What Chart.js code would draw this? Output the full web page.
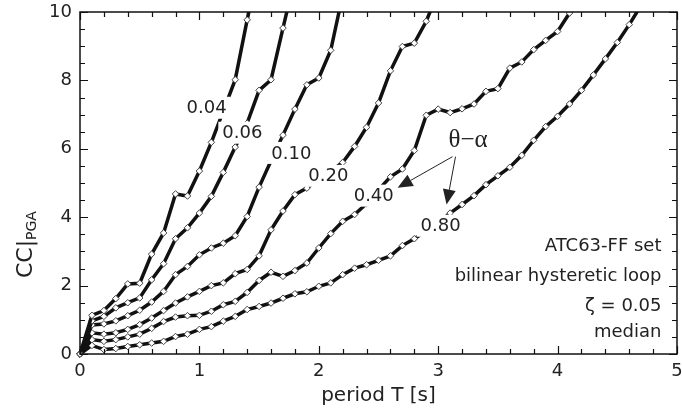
<!DOCTYPE html>
<html>
<head>
<meta charset="utf-8">
<script src="https://cdn.jsdelivr.net/npm/chart.js@4.4.1/dist/chart.umd.min.js"></script>
<style>
  html, body { margin: 0; padding: 0; background: #fff; }
  #wrap { width: 682px; height: 413px; }
</style>
</head>
<body>
<div id="wrap"><canvas id="cc" width="682" height="413"></canvas></div>
<script>
// period grid (s) and median collapse capacity curves, one per theta-alpha
const periods = [0, 0.1, 0.2, 0.3, 0.4, 0.5, 0.6, 0.7, 0.8, 0.9,
  1.0, 1.1, 1.2, 1.3, 1.4, 1.5, 1.6, 1.7, 1.8, 1.9,
  2.0, 2.1, 2.2, 2.3, 2.4, 2.5, 2.6, 2.7, 2.8, 2.9,
  3.0, 3.1, 3.2, 3.3, 3.4, 3.5, 3.6, 3.7, 3.8, 3.9,
  4.0, 4.1, 4.2, 4.3, 4.4, 4.5, 4.6, 4.7];

const cc004 = [0, 1.13, 1.27, 1.62, 2.05, 2.07, 2.92, 3.54, 4.68, 4.62, 5.35, 6.19, 7.1, 8.02, 9.77, 11.4];
const cc006 = [0, 0.97, 1.10, 1.35, 1.5, 1.64, 2.17, 2.64, 3.37, 3.69, 4.12, 4.61, 5.31, 6.05, 6.75, 7.71, 8.02, 9.53, 11.0];
const cc010 = [0, 0.85, 0.88, 0.97, 1.12, 1.28, 1.52, 1.83, 2.32, 2.56, 2.90, 3.10, 3.24, 3.46, 4.02, 4.88, 5.65, 6.4,
  7.16, 7.87, 8.07, 8.88, 10.5];
const cc020 = [0, 0.62, 0.58, 0.62, 0.72, 0.86, 1.05, 1.27, 1.49, 1.67, 1.83, 2.0, 2.08, 2.35, 2.47, 2.87, 3.63, 4.18,
  4.66, 4.85, 5.1, 5.35, 5.6, 6.07, 6.63, 7.34, 8.28, 8.99, 9.09, 9.73, 10.6];
const cc040 = [0, 0.42, 0.37, 0.42, 0.5, 0.58, 0.75, 0.95, 1.08, 1.12, 1.13, 1.25, 1.44, 1.54, 1.8, 2.15, 2.39, 2.27,
  2.44, 2.66, 3.10, 3.52, 3.88, 4.08, 4.4, 4.8, 5.18, 5.41, 5.95, 6.98, 7.16, 7.06, 7.17, 7.31, 7.68, 7.76,
  8.36, 8.54, 8.9, 9.17, 9.43, 9.97, 10.6];
const cc080 = [0, 0.25, 0.13, 0.16, 0.22, 0.27, 0.32, 0.37, 0.51, 0.58, 0.72, 0.8, 0.96, 1.1, 1.3, 1.39, 1.49, 1.63,
  1.76, 1.82, 1.98, 2.08, 2.32, 2.51, 2.61, 2.74, 2.87, 3.17, 3.37, 3.6, 3.85, 4.12, 4.37, 4.63, 4.95, 5.21,
  5.46, 5.81, 6.25, 6.65, 6.95, 7.31, 7.71, 8.16, 8.63, 9.11, 9.63, 10.2];

const curveNames = ['0.04', '0.06', '0.10', '0.20', '0.40', '0.80'];
const curves = [cc004, cc006, cc010, cc020, cc040, cc080];

const xTicks = [0, 1, 2, 3, 4, 5];
const yTicks = [0, 2, 4, 6, 8, 10];
const notes = ['ATC63-FF set', 'bilinear hysteretic loop', '\u03B6 = 0.05', 'median'];

// where the in-plot labels sit (data coords)
const labelPos = [[1.06, 7.2], [1.36, 6.47], [1.77, 5.88], [2.08, 5.21], [2.46, 4.63], [3.02, 3.75]];

const FONT = '"DejaVu Sans", Verdana, sans-serif';
const INK = '#222';

const datasets = curves.map((c, k) => ({
  label: curveNames[k],
  data: c.map((v, i) => ({ x: periods[i], y: v })),
  borderColor: '#111',
  borderWidth: 3.5,
  pointStyle: 'rectRot',
  pointRadius: 3.3,
  pointBackgroundColor: '#fff',
  pointBorderColor: '#444',
  pointBorderWidth: 1,
  tension: 0,
  clip: { left: 6, bottom: 6, top: 0, right: 0 }
}));

function arrow(ctx, x0, y0, x1, y1) {
  const a = Math.atan2(y1 - y0, x1 - x0);
  const len = 15, w = 6.5;
  ctx.beginPath();
  ctx.moveTo(x0, y0);
  ctx.lineTo(x1 - len * Math.cos(a), y1 - len * Math.sin(a));
  ctx.stroke();
  ctx.beginPath();
  ctx.moveTo(x1, y1);
  ctx.lineTo(x1 - len * Math.cos(a) + w * Math.sin(a), y1 - len * Math.sin(a) - w * Math.cos(a));
  ctx.lineTo(x1 - len * Math.cos(a) - w * Math.sin(a), y1 - len * Math.sin(a) + w * Math.cos(a));
  ctx.closePath();
  ctx.fill();
}

const decor = {
  id: 'decor',
  afterDatasetsDraw(chart) {
    const { ctx, scales: { x, y } } = chart;
    ctx.save();
    ctx.font = '18px ' + FONT;
    ctx.textAlign = 'center';
    ctx.textBaseline = 'middle';
    curveNames.forEach((t, k) => {
      const px = x.getPixelForValue(labelPos[k][0]);
      const py = y.getPixelForValue(labelPos[k][1]);
      const w = ctx.measureText(t).width + 8;
      ctx.fillStyle = '#fff';
      ctx.fillRect(px - w / 2, py - 11, w, 22);
      ctx.fillStyle = INK;
      ctx.fillText(t, px, py + 1);
    });
    ctx.restore();
  },
  afterDraw(chart) {
    const { ctx, chartArea: a, scales: { x, y } } = chart;
    ctx.save();
    // frame
    ctx.strokeStyle = '#111';
    ctx.lineWidth = 1.5;
    ctx.strokeRect(a.left, a.top, a.right - a.left, a.bottom - a.top);
    // inward ticks on all four sides
    ctx.lineWidth = 1.2;
    ctx.beginPath();
    for (let v = 0; v <= 5.001; v += 0.2) {
      const px = Math.round(x.getPixelForValue(v)) + 0.5;
      const L = Math.abs(v - Math.round(v)) < 1e-6 ? 8 : 5;
      ctx.moveTo(px, a.bottom); ctx.lineTo(px, a.bottom - L);
      ctx.moveTo(px, a.top); ctx.lineTo(px, a.top + L);
    }
    for (let v = 0; v <= 10.001; v += 0.5) {
      const py = Math.round(y.getPixelForValue(v)) + 0.5;
      const L = Math.abs(v / 2 - Math.round(v / 2)) < 1e-6 ? 8 : 5;
      ctx.moveTo(a.left, py); ctx.lineTo(a.left + L, py);
      ctx.moveTo(a.right, py); ctx.lineTo(a.right - L, py);
    }
    ctx.stroke();

    // theta-alpha pointer
    ctx.fillStyle = INK;
    ctx.strokeStyle = INK;
    ctx.lineWidth = 1;
    ctx.font = '25px "Liberation Serif", "DejaVu Serif", serif';
    ctx.textAlign = 'center';
    ctx.textBaseline = 'middle';
    ctx.fillText('\u03B8\u2212\u03B1', x.getPixelForValue(3.25), y.getPixelForValue(6.24));
    const sx = x.getPixelForValue(3.12), sy = y.getPixelForValue(5.77);
    arrow(ctx, sx, sy, x.getPixelForValue(2.66), y.getPixelForValue(4.86));
    arrow(ctx, sx + 3, sy, x.getPixelForValue(3.07), y.getPixelForValue(4.37));

    // notes block, right aligned
    ctx.font = '18px ' + FONT;
    ctx.textAlign = 'right';
    const noteY = [3.16, 2.26, 1.4, 0.62];
    notes.forEach((t, i) => ctx.fillText(t, x.getPixelForValue(4.87), y.getPixelForValue(noteY[i])));

    // y title CC|PGA with subscript
    ctx.translate(25, y.getPixelForValue(3.2));
    ctx.rotate(-Math.PI / 2);
    ctx.textAlign = 'left';
    ctx.textBaseline = 'alphabetic';
    ctx.font = '22px ' + FONT;
    const main = 'CC|';
    const mw = ctx.measureText(main).width;
    ctx.font = '14px ' + FONT;
    const sw = ctx.measureText('PGA').width;
    const x0 = -(mw + sw) / 2;
    ctx.font = '22px ' + FONT;
    ctx.fillText(main, x0, 7);
    ctx.font = '14px ' + FONT;
    ctx.fillText('PGA', x0 + mw, 11);
    ctx.restore();
  }
};

new Chart(document.getElementById('cc'), {
  type: 'line',
  data: { datasets },
  plugins: [decor],
  options: {
    responsive: false,
    animation: false,
    devicePixelRatio: 1,
    layout: { padding: { top: 12, right: 3, left: 0, bottom: 0 } },
    plugins: { legend: { display: false }, tooltip: { enabled: false } },
    scales: {
      x: {
        type: 'linear', min: 0, max: 5,
        afterBuildTicks: s => { s.ticks = xTicks.map(v => ({ value: v })); },
        afterFit: s => { s.height = 59; s.paddingLeft = 0; s.paddingRight = 0; },
        grid: { display: false, drawTicks: false },
        border: { display: false },
        ticks: { color: INK, font: { family: FONT, size: 18 }, padding: 7, maxRotation: 0 },
        title: { display: true, text: 'period T [s]', color: INK, font: { family: FONT, size: 20 }, padding: { top: 0, bottom: 5 } }
      },
      y: {
        type: 'linear', min: 0, max: 10,
        afterBuildTicks: s => { s.ticks = yTicks.map(v => ({ value: v })); },
        afterFit: s => { s.width = 80; s.paddingTop = 0; s.paddingBottom = 0; },
        grid: { display: false, drawTicks: false },
        border: { display: false },
        ticks: { color: INK, font: { family: FONT, size: 18 }, padding: 8 }
      }
    }
  }
});
</script>
</body>
</html>
